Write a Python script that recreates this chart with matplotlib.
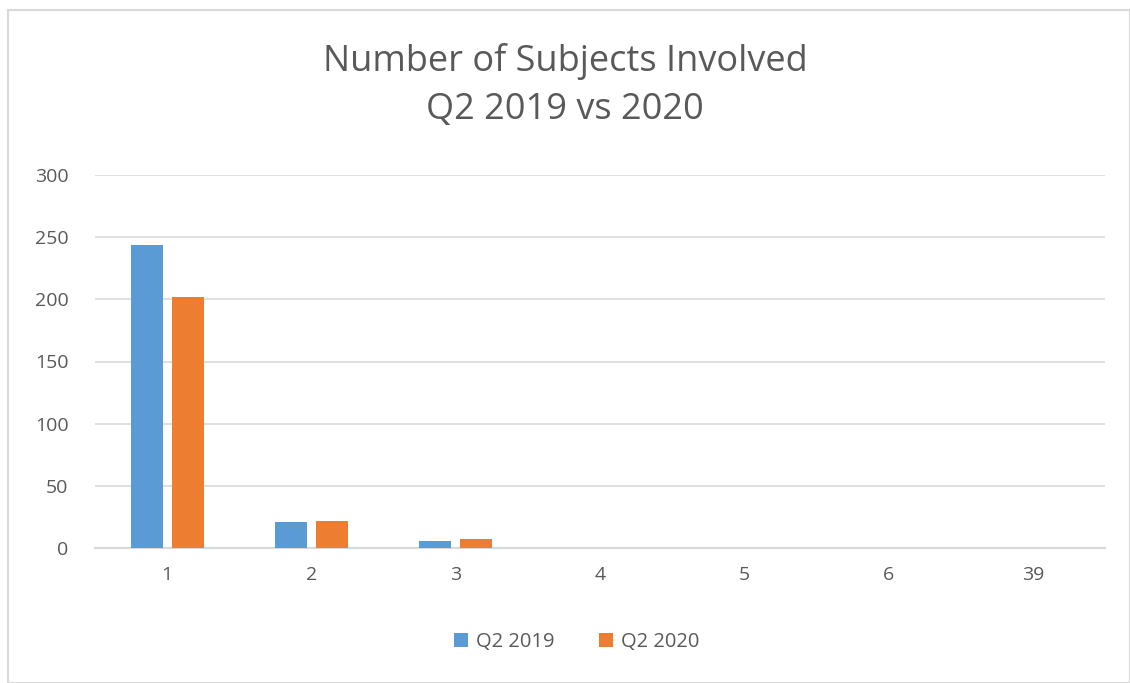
import matplotlib
matplotlib.use("Agg")
import matplotlib.pyplot as plt
import numpy as np
from matplotlib.patches import Rectangle

categories = ["1", "2", "3", "4", "5", "6", "39"]
q2_2019 = [244, 21, 6, 0, 0, 0, 0]
q2_2020 = [202, 22, 7, 0, 0, 0, 0]
series_names = ["Q2 2019", "Q2 2020"]
yticks = [0, 50, 100, 150, 200, 250, 300]

plt.rcParams['font.family'] = ['Open Sans', 'DejaVu Sans']
txt = '#595959'

fig = plt.figure(figsize=(11.3, 6.83), dpi=100)
fig.patches.append(Rectangle((8/1130, 0), 1 - 8/1130, 1 - 10/683, transform=fig.transFigure,
                             fill=False, edgecolor='#d9d9d9', linewidth=1.5))
ax = fig.add_axes([95/1130, 1 - 548/683, 1010/1130, 373/683])

x = np.arange(len(categories))
w = 0.22
off = 0.142
ax.bar(x - off, q2_2019, w, color='#5b9bd5', label=series_names[0], zorder=3)
ax.bar(x + off, q2_2020, w, color='#ed7d31', label=series_names[1], zorder=3)

ax.set_xlim(-0.5, len(categories) - 0.5)
ax.set_ylim(0, 300)
ax.set_yticks(yticks)
ax.set_xticks(x)
ax.set_xticklabels(categories)
ax.tick_params(axis='both', length=0, colors=txt, labelsize=14)
ax.tick_params(axis='x', pad=13)
ax.tick_params(axis='y', pad=19)
ax.grid(axis='y', color='#d9d9d9', linewidth=1.2, zorder=0)
for s in ['top', 'right', 'left']:
    ax.spines[s].set_visible(False)
ax.spines['bottom'].set_color('#d9d9d9')
ax.spines['bottom'].set_linewidth(1.5)

fig.text(0.5, 1 - 62/683, "Number of Subjects Involved", ha='center', va='center', fontsize=26, color=txt)
fig.text(0.5, 1 - 110/683, "Q2 2019 vs 2020", ha='center', va='center', fontsize=26, color=txt)

leg = fig.legend(loc='center', bbox_to_anchor=(577/1130, 1 - 642/683), ncol=2, frameon=False,
                 fontsize=14.5, handlelength=0.7, handleheight=0.7, columnspacing=2.2, handletextpad=0.4)
for t in leg.get_texts():
    t.set_color(txt)

fig.savefig("out.png", dpi=100)
